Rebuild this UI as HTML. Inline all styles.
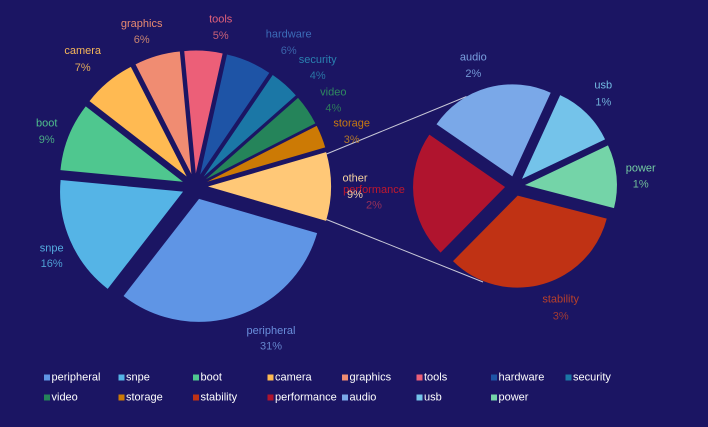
<!DOCTYPE html>
<html><head><meta charset="utf-8"><style>
html,body{margin:0;padding:0;background:#1b1563;}
svg{display:block}
text{font-family:"Liberation Sans",sans-serif;font-size:11px}
</style></head><body>
<svg width="708" height="427" viewBox="0 0 708 427" xmlns="http://www.w3.org/2000/svg">
<rect width="708" height="427" fill="#1b1563"/>
<line x1="326.5" y1="154" x2="466.5" y2="96.5" stroke="#c8c8d8" stroke-width="1"/>
<line x1="326.5" y1="219.5" x2="483" y2="282" stroke="#c8c8d8" stroke-width="1"/>
<g transform="translate(195,186.5)" fill="none" stroke-width="123">
 <g transform="rotate(72) translate(13,0) rotate(-55.8)"><circle r="61.5" stroke="#5f95e5" stroke-dasharray="119.789 400"/></g>
 <g transform="rotate(156.6) translate(13,0) rotate(-28.8)"><circle r="61.5" stroke="#55b4e6" stroke-dasharray="61.827 400"/></g>
 <g transform="rotate(201.6) translate(13,0) rotate(-16.2)"><circle r="61.5" stroke="#4fc78f" stroke-dasharray="34.777 400"/></g>
 <g transform="rotate(230.4) translate(13,0) rotate(-12.6)"><circle r="61.5" stroke="#ffba52" stroke-dasharray="27.049 400"/></g>
 <g transform="rotate(253.8) translate(13,0) rotate(-10.8)"><circle r="61.5" stroke="#f08c72" stroke-dasharray="23.185 400"/></g>
 <g transform="rotate(273.6) translate(13,0) rotate(-9)"><circle r="61.5" stroke="#ec5f78" stroke-dasharray="19.321 400"/></g>
 <g transform="rotate(293.4) translate(13,0) rotate(-10.8)"><circle r="61.5" stroke="#1e54a6" stroke-dasharray="23.185 400"/></g>
 <g transform="rotate(311.4) translate(13,0) rotate(-7.2)"><circle r="61.5" stroke="#1b77a6" stroke-dasharray="15.457 400"/></g>
 <g transform="rotate(325.8) translate(13,0) rotate(-7.2)"><circle r="61.5" stroke="#25845a" stroke-dasharray="15.457 400"/></g>
 <g transform="rotate(338.4) translate(13,0) rotate(-5.4)"><circle r="61.5" stroke="#cc7a05" stroke-dasharray="11.592 400"/></g>
 <g transform="rotate(360) translate(13,0) rotate(-16.2)"><circle r="61.5" stroke="#ffc877" stroke-dasharray="34.777 400"/></g>
</g>
<g transform="translate(515,186)" fill="none" stroke-width="92">
 <g transform="rotate(74.5) translate(10,0) rotate(-60)"><circle r="46" stroke="#c03214" stroke-dasharray="96.342 400"/></g>
 <g transform="rotate(174.5) translate(10,0) rotate(-40)"><circle r="46" stroke="#b0142e" stroke-dasharray="64.228 400"/></g>
 <g transform="rotate(254.5) translate(10,0) rotate(-40)"><circle r="46" stroke="#7aa8e8" stroke-dasharray="64.228 400"/></g>
 <g transform="rotate(314.5) translate(10,0) rotate(-20)"><circle r="46" stroke="#74c3ea" stroke-dasharray="32.114 400"/></g>
 <g transform="rotate(354.5) translate(10,0) rotate(-20)"><circle r="46" stroke="#74d4a8" stroke-dasharray="32.114 400"/></g>
</g>
<g text-anchor="middle" dominant-baseline="central">
 <text x="141.7" y="24" fill="#e88a70">graphics</text><text x="141.7" y="40" fill="#c98470">6%</text>
 <text x="220.7" y="19.3" fill="#e0607a">tools</text><text x="220.7" y="36" fill="#c86078">5%</text>
 <text x="288.7" y="34.7" fill="#3c6cb8">hardware</text><text x="288.7" y="51" fill="#3a64aa">6%</text>
 <text x="317.7" y="60" fill="#2a80b0">security</text><text x="317.7" y="76" fill="#2a74a4">4%</text>
 <text x="333.3" y="92.7" fill="#2f8a60">video</text><text x="333.3" y="108.7" fill="#2d7c5a">4%</text>
 <text x="351.7" y="123.3" fill="#c87a10">storage</text><text x="351.7" y="140" fill="#b0762a">3%</text>
 <text x="82.7" y="51" fill="#f5b65a">camera</text><text x="82.7" y="68" fill="#e0aa5c">7%</text>
 <text x="46.7" y="123.7" fill="#4fbf8c">boot</text><text x="46.7" y="140" fill="#4aaa84">9%</text>
 <text x="51.7" y="248.3" fill="#55ace0">snpe</text><text x="51.7" y="264" fill="#4f9ed4">16%</text>
 <text x="271" y="331" fill="#6a8fdc">peripheral</text><text x="271" y="346.7" fill="#6585cc">31%</text>
 <text x="374" y="190" fill="#c0182e">performance</text><text x="374" y="205.7" fill="#96305a">2%</text>
 <text x="355" y="178.3" fill="#f5d2a0">other</text><text x="355" y="195" fill="#f0d0a8">9%</text>
 <text x="473.3" y="57.3" fill="#7aa0e0">audio</text><text x="473.3" y="74" fill="#7296d4">2%</text>
 <text x="603.3" y="85.7" fill="#74bce4">usb</text><text x="603.3" y="102.3" fill="#70b0d8">1%</text>
 <text x="640.7" y="168.7" fill="#74cca2">power</text><text x="640.7" y="184.7" fill="#70bc98">1%</text>
 <text x="560.7" y="299.3" fill="#b8402a">stability</text><text x="560.7" y="316.7" fill="#a03a34">3%</text>
</g>
<g dominant-baseline="central" fill="#ffffff">
 <rect x="44" y="374.5" width="6" height="6" fill="#5f95e5"/><text x="51.5" y="377.3">peripheral</text>
 <rect x="118.5" y="374.5" width="6" height="6" fill="#55b4e6"/><text x="126" y="377.3">snpe</text>
 <rect x="193" y="374.5" width="6" height="6" fill="#4fc78f"/><text x="200.5" y="377.3">boot</text>
 <rect x="267.5" y="374.5" width="6" height="6" fill="#ffba52"/><text x="275" y="377.3">camera</text>
 <rect x="342" y="374.5" width="6" height="6" fill="#f08c72"/><text x="349.5" y="377.3">graphics</text>
 <rect x="416.5" y="374.5" width="6" height="6" fill="#ec5f78"/><text x="424" y="377.3">tools</text>
 <rect x="491" y="374.5" width="6" height="6" fill="#1e54a6"/><text x="498.5" y="377.3">hardware</text>
 <rect x="565.5" y="374.5" width="6" height="6" fill="#1b77a6"/><text x="573" y="377.3">security</text>
 <rect x="44" y="394.5" width="6" height="6" fill="#25845a"/><text x="51.5" y="397.3">video</text>
 <rect x="118.5" y="394.5" width="6" height="6" fill="#cc7a05"/><text x="126" y="397.3">storage</text>
 <rect x="193" y="394.5" width="6" height="6" fill="#c03214"/><text x="200.5" y="397.3">stability</text>
 <rect x="267.5" y="394.5" width="6" height="6" fill="#b0142e"/><text x="275" y="397.3">performance</text>
 <rect x="342" y="394.5" width="6" height="6" fill="#7aa8e8"/><text x="349.5" y="397.3">audio</text>
 <rect x="416.5" y="394.5" width="6" height="6" fill="#74c3ea"/><text x="424" y="397.3">usb</text>
 <rect x="491" y="394.5" width="6" height="6" fill="#74d4a8"/><text x="498.5" y="397.3">power</text>
</g>
</svg>
</body></html>
